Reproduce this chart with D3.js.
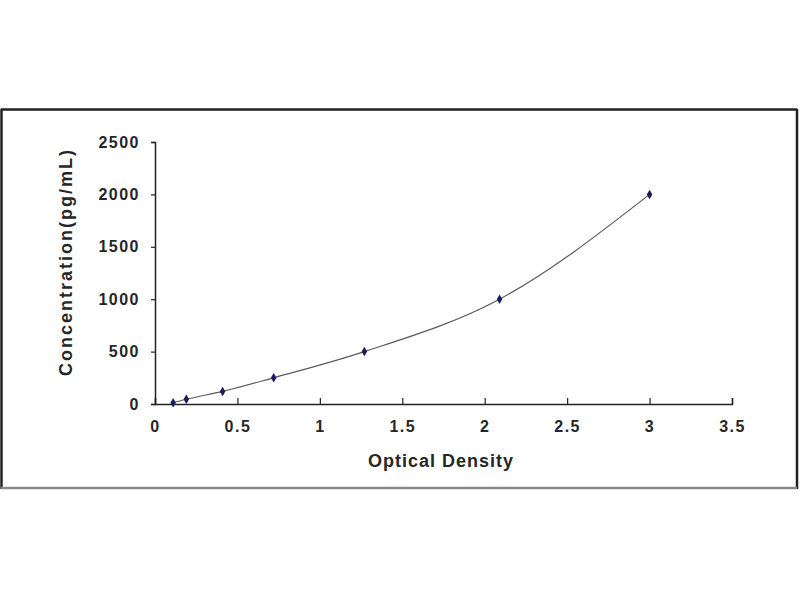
<!DOCTYPE html>
<html>
<head>
<meta charset="utf-8">
<script src="https://cdn.jsdelivr.net/npm/d3@7"></script>
<style>
  body { margin: 0; background: #fff; }
  .tick text { font-family: "Liberation Sans", Arial, sans-serif; font-weight: bold; font-size: 16px; letter-spacing: 1.5px; fill: #262626; }
  .axis-title { font-family: "Liberation Sans", Arial, sans-serif; font-weight: bold; font-size: 18px; fill: #262626; }
</style>
</head>
<body>
<div id="chart"></div>
<script>
// Standard curve data
const opticalDensity = [0.11, 0.19, 0.41, 0.72, 1.27, 2.09, 3.0];
const concentration = [12, 45, 120, 250, 500, 1000, 2000];
const xTicks = [0, 0.5, 1, 1.5, 2, 2.5, 3, 3.5];
const yTicks = [0, 500, 1000, 1500, 2000, 2500];

const points = opticalDensity.map((d, i) => ({ od: d, conc: concentration[i] }));

const svg = d3.select('#chart').append('svg')
  .attr('width', 800)
  .attr('height', 600);

// outer frame
svg.append('line').attr('x1', 1).attr('x2', 797).attr('y1', 109.5).attr('y2', 109.5)
  .attr('stroke', '#222').attr('stroke-width', 2.5);
svg.append('line').attr('x1', 1.5).attr('x2', 1.5).attr('y1', 109).attr('y2', 489)
  .attr('stroke', '#222').attr('stroke-width', 2.5);
svg.append('line').attr('x1', 797).attr('x2', 797).attr('y1', 109).attr('y2', 489)
  .attr('stroke', '#222').attr('stroke-width', 2.5);
svg.append('line').attr('x1', 1).attr('x2', 797).attr('y1', 488).attr('y2', 488)
  .attr('stroke', '#8a8a8a').attr('stroke-width', 2.5);

const x = d3.scaleLinear().domain([0, 3.5]).range([155, 732]);
const y = d3.scaleLinear().domain([0, 2500]).range([404, 142]);

const xAxis = svg.append('g')
  .attr('transform', `translate(0, ${y(0)})`)
  .call(d3.axisBottom(x).tickValues(xTicks).tickSize(-6).tickPadding(22).tickFormat(d3.format('')));

const yAxis = svg.append('g')
  .attr('transform', `translate(${x(0)}, 0)`)
  .call(d3.axisLeft(y).tickValues(yTicks).tickSize(4).tickPadding(11).tickFormat(d3.format('')));

[xAxis, yAxis].forEach(g => {
  g.select('.domain').attr('stroke', '#222').attr('stroke-width', 1.5);
  g.selectAll('.tick line').attr('stroke', '#222').attr('stroke-width', 1.2);
});
xAxis.selectAll('.tick text').attr('dy', '0.4em');

// fitted curve
const line = d3.line()
  .x(d => x(d.od))
  .y(d => y(d.conc))
  .curve(d3.curveMonotoneX);

svg.append('path')
  .datum(points)
  .attr('d', line)
  .attr('fill', 'none')
  .attr('stroke', '#5a5a5a')
  .attr('stroke-width', 1.2);

svg.append('g')
  .selectAll('path')
  .data(points)
  .enter()
    .append('path')
    .attr('transform', d => `translate(${x(d.od)}, ${y(d.conc)})`)
    .attr('d', d3.symbol(d3.symbolDiamond, 26))
    .attr('fill', '#1a1a5c');

svg.append('text')
  .attr('class', 'axis-title')
  .attr('x', 441)
  .attr('y', 467)
  .attr('text-anchor', 'middle')
  .attr('letter-spacing', '1px')
  .text('Optical Density');

svg.append('text')
  .attr('class', 'axis-title')
  .attr('transform', 'translate(72, 262) rotate(-90)')
  .attr('text-anchor', 'middle')
  .attr('letter-spacing', '2px')
  .text('Concentration(pg/mL)');
</script>
</body>
</html>
